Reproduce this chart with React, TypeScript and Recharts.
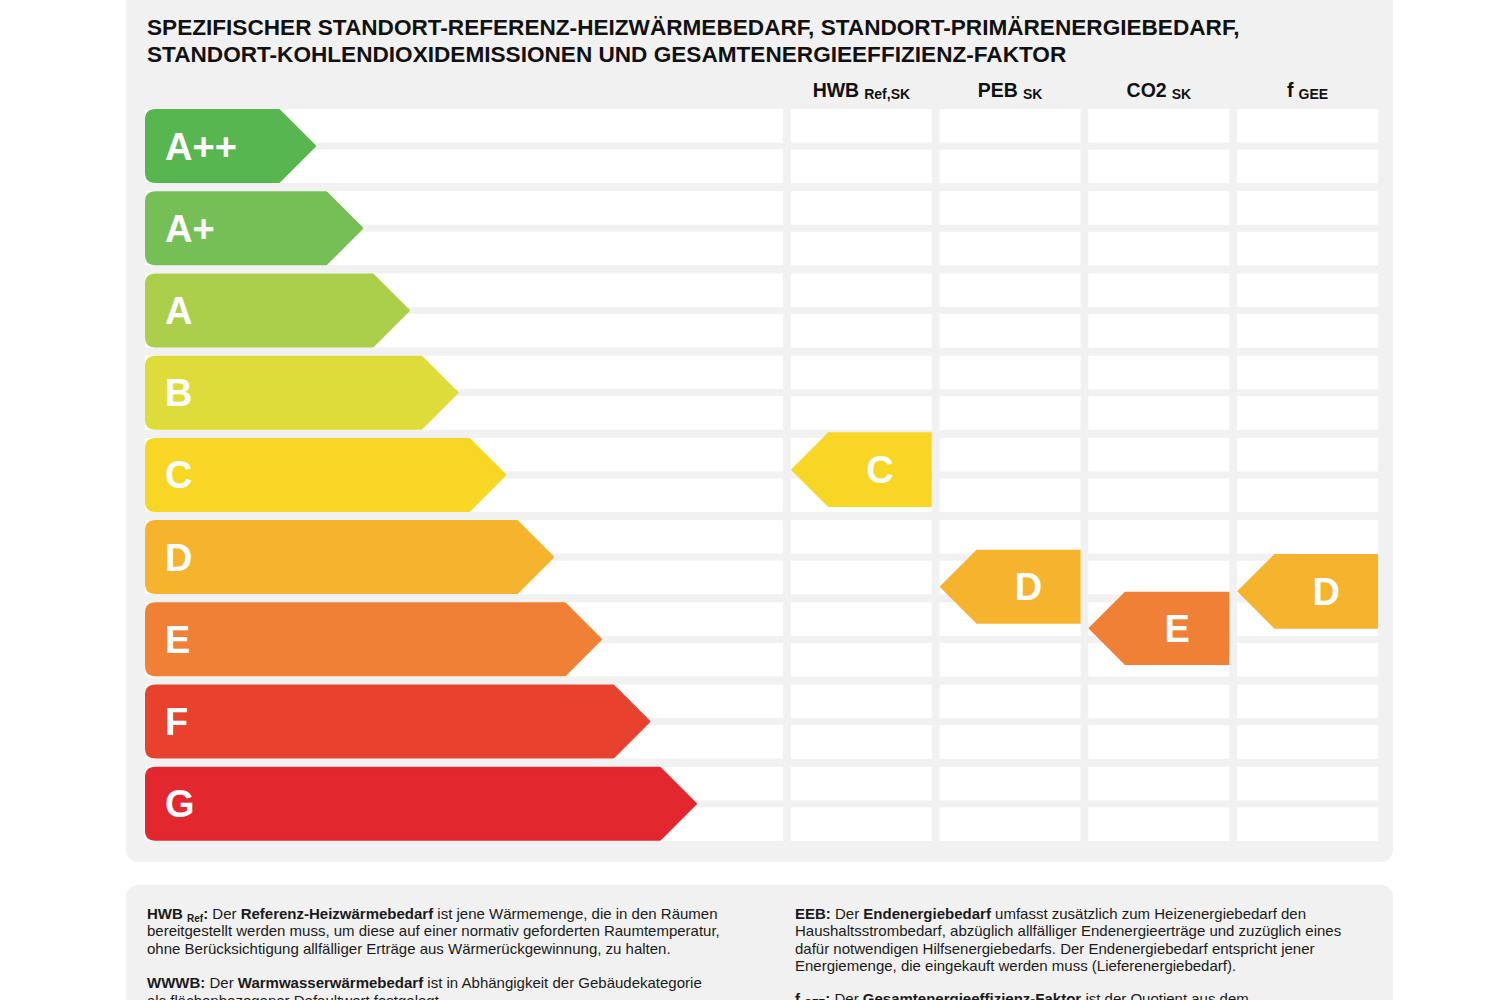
import React from "react";
import { BarChart, Bar, XAxis, YAxis } from "recharts";

const FONT = "'Liberation Sans', Arial, Helvetica, sans-serif";

// Energy classes (rows) and the length of each class arrow (percent of the row width)
const classes = ["A++", "A+", "A", "B", "C", "D", "E", "F", "G"];
const classLengths = [26.8, 34.2, 41.5, 49.1, 56.6, 64.1, 71.6, 79.2, 86.5];
const classColors = ["#58b650", "#76bf57", "#abcf4a", "#dedc3b", "#f7d723", "#f6b42e", "#f08035", "#e8412e", "#e3272f"];

// Rating columns
const columnKeys = ["HWB", "PEB", "CO2", "fGEE"];
const columnMain = ["HWB", "PEB", "CO2", "f"];
const columnSub = ["Ref,SK", "SK", "SK", "GEE"];
const ratingClasses = ["C", "D", "E", "D"];
// vertical extent of each rating marker, in class units (0 = top of A++, 9 = bottom of G)
const ratingTop = [3.98, 5.41, 5.92, 5.46];
const ratingBottom = [4.89, 6.31, 6.81, 6.37];

const titleLines = [
  "SPEZIFISCHER STANDORT-REFERENZ-HEIZWÄRMEBEDARF, STANDORT-PRIMÄRENERGIEBEDARF,",
  "STANDORT-KOHLENDIOXIDEMISSIONEN UND GESAMTENERGIEEFFIZIENZ-FAKTOR",
];

const leftData = classes.map((c, i) => ({ cls: c, len: classLengths[i], color: classColors[i] }));
const rightData = columnKeys.map((k, i) => ({
  col: k,
  cls: ratingClasses[i],
  range: [ratingTop[i], ratingBottom[i]],
  color: classColors[classes.indexOf(ratingClasses[i])],
}));

const STRIPE_GAP = 7;
const BAND_INSET = 4;

function StripeRow(props: any) {
  const { x, y, width, height } = props;
  const h = (height - STRIPE_GAP) / 2;
  return (
    <g>
      <rect x={x} y={y} width={width} height={h} fill="#ffffff" />
      <rect x={x} y={y + h + STRIPE_GAP} width={width} height={h} fill="#ffffff" />
    </g>
  );
}

function ColumnStripes(props: any) {
  const { x, y, width, height } = props;
  const pitch = height / classes.length;
  const rects: any[] = [];
  classes.forEach((c, i) => {
    const top = y + i * pitch + BAND_INSET;
    const bh = pitch - 2 * BAND_INSET;
    const h = (bh - STRIPE_GAP) / 2;
    rects.push(<rect key={c + "a"} x={x} y={top} width={width} height={h} fill="#ffffff" />);
    rects.push(<rect key={c + "b"} x={x} y={top + h + STRIPE_GAP} width={width} height={h} fill="#ffffff" />);
  });
  return <g>{rects}</g>;
}

function ClassArrow(props: any) {
  const { x, y, width, height, payload } = props;
  const s = 1.5;
  const r = 9;
  const x0 = x + s;
  const y0 = y + s;
  const x1 = x + width - s;
  const y1 = y + height - s;
  const cy = y + height / 2;
  const tipStart = x1 - (cy - y0);
  const d = `M${x0 + r},${y0} L${tipStart},${y0} L${x1},${cy} L${tipStart},${y1} L${x0 + r},${y1} Q${x0},${y1} ${x0},${y1 - r} L${x0},${y0 + r} Q${x0},${y0} ${x0 + r},${y0} Z`;
  return (
    <g>
      <path d={d} fill={payload.color} stroke={payload.color} strokeWidth={3} strokeLinejoin="round" />
      <text x={x + 20} y={cy + 13.5} fill="#ffffff" fontFamily={FONT} fontWeight="bold" fontSize={38}>
        {payload.cls}
      </text>
    </g>
  );
}

function RatingArrow(props: any) {
  const { x, y, width, height, payload } = props;
  const top = Math.min(y, y + height);
  const h = Math.abs(height);
  const cy = top + h / 2;
  const t = h / 2;
  const d = `M${x},${cy} L${x + t},${top} L${x + width},${top} L${x + width},${top + h} L${x + t},${top + h} Z`;
  const cx = (x + t + x + width) / 2;
  return (
    <g>
      <path d={d} fill={payload.color} />
      <text x={cx} y={cy + 13.5} textAnchor="middle" fill="#ffffff" fontFamily={FONT} fontWeight="bold" fontSize={38}>
        {payload.cls}
      </text>
    </g>
  );
}

function HeaderTick(props: any) {
  const { x, y, payload } = props;
  const i = columnKeys.indexOf(payload.value);
  return (
    <text x={x} y={y} textAnchor="middle" fontFamily={FONT} fontWeight="bold" fill="#111111">
      <tspan fontSize={19.5}>{columnMain[i]}</tspan>
      <tspan fontSize={14} dx={5} dy={2}>{columnSub[i]}</tspan>
    </text>
  );
}

const NOTE_SIZE = 15;

function Notes() {
  const lh = 17.3;
  const b0 = 919;
  const lx = 147;
  const rx = 795;
  return (
    <svg width={1500} height={1000} style={{ position: "absolute", left: 0, top: 0 }}>
      {titleLines.map((t, i) => (
        <text key={t} x={147} y={35 + i * 27} fontFamily={FONT} fontWeight="bold" fontSize={22.6} fill="#111111">
          {t}
        </text>
      ))}
      <g fontFamily={FONT} fontSize={NOTE_SIZE} fill="#1a1a1a">
        <text x={lx} y={b0}>
          <tspan fontWeight="bold">HWB </tspan>
          <tspan fontWeight="bold" fontSize={10} dy={3}>Ref</tspan>
          <tspan fontWeight="bold" dy={-3}>:</tspan>
          <tspan> Der </tspan>
          <tspan fontWeight="bold">Referenz-Heizwärmebedarf</tspan>
          <tspan> ist jene Wärmemenge, die in den Räumen</tspan>
        </text>
        <text x={lx} y={b0 + lh}>bereitgestellt werden muss, um diese auf einer normativ geforderten Raumtemperatur,</text>
        <text x={lx} y={b0 + 2 * lh}>ohne Berücksichtigung allfälliger Erträge aus Wärmerückgewinnung, zu halten.</text>
        <text x={lx} y={b0 + 4 * lh}>
          <tspan fontWeight="bold">WWWB:</tspan>
          <tspan> Der </tspan>
          <tspan fontWeight="bold">Warmwasserwärmebedarf</tspan>
          <tspan>  ist in Abhängigkeit der Gebäudekategorie</tspan>
        </text>
        <text x={lx} y={b0 + 5 * lh}>als flächenbezogener Defaultwert festgelegt.</text>

        <text x={rx} y={b0}>
          <tspan fontWeight="bold">EEB:</tspan>
          <tspan> Der </tspan>
          <tspan fontWeight="bold">Endenergiebedarf</tspan>
          <tspan> umfasst zusätzlich zum Heizenergiebedarf den</tspan>
        </text>
        <text x={rx} y={b0 + lh}>Haushaltsstrombedarf, abzüglich allfälliger Endenergieerträge und zuzüglich eines</text>
        <text x={rx} y={b0 + 2 * lh}>dafür notwendigen Hilfsenergiebedarfs. Der Endenergiebedarf entspricht jener</text>
        <text x={rx} y={b0 + 3 * lh}>Energiemenge, die eingekauft werden muss (Lieferenergiebedarf).</text>
        <text x={rx} y={b0 + 5 * lh - 2}>
          <tspan fontWeight="bold">f </tspan>
          <tspan fontWeight="bold" fontSize={10} dy={3}>GEE</tspan>
          <tspan fontWeight="bold" dy={-3}>:</tspan>
          <tspan> Der </tspan>
          <tspan fontWeight="bold">Gesamtenergieeffizienz-Faktor</tspan>
          <tspan> ist der Quotient aus dem</tspan>
        </text>
      </g>
    </svg>
  );
}

export default function App() {
  return (
    <div style={{ position: "absolute", left: 0, top: 0, width: 1500, height: 1000, overflow: "hidden", background: "#ffffff", fontFamily: FONT }}>
      <div style={{ position: "absolute", left: 126, top: -14, width: 1267, height: 876, borderRadius: 12, background: "#f1f1f1" }} />
      <div style={{ position: "absolute", left: 126, top: 885, width: 1267, height: 140, borderRadius: 12, background: "#f1f1f1" }} />

      <div style={{ position: "absolute", left: 0, top: 0 }}>
        <BarChart
          layout="vertical"
          width={800}
          height={1000}
          data={leftData}
          margin={{ top: 105, bottom: 155, left: 145, right: 17 }}
          barCategoryGap={BAND_INSET}
        >
          <XAxis type="number" domain={[0, 100]} hide />
          <YAxis type="category" dataKey="cls" hide width={0} />
          <Bar dataKey="len" isAnimationActive={false} background={StripeRow} shape={ClassArrow} />
        </BarChart>
      </div>

      <div style={{ position: "absolute", left: 0, top: 0 }}>
        <BarChart
          width={1500}
          height={1000}
          data={rightData}
          margin={{ top: 75, bottom: 155, left: 787, right: 118 }}
          barCategoryGap={3.83}
        >
          <XAxis
            dataKey="col"
            orientation="top"
            height={30}
            axisLine={false}
            tickLine={false}
            tickSize={0}
            tickMargin={8}
            tick={HeaderTick}
            interval={0}
          />
          <YAxis type="number" domain={[0, 9]} reversed hide />
          <Bar dataKey="range" isAnimationActive={false} background={ColumnStripes} shape={RatingArrow} />
        </BarChart>
      </div>

      <Notes />
    </div>
  );
}
